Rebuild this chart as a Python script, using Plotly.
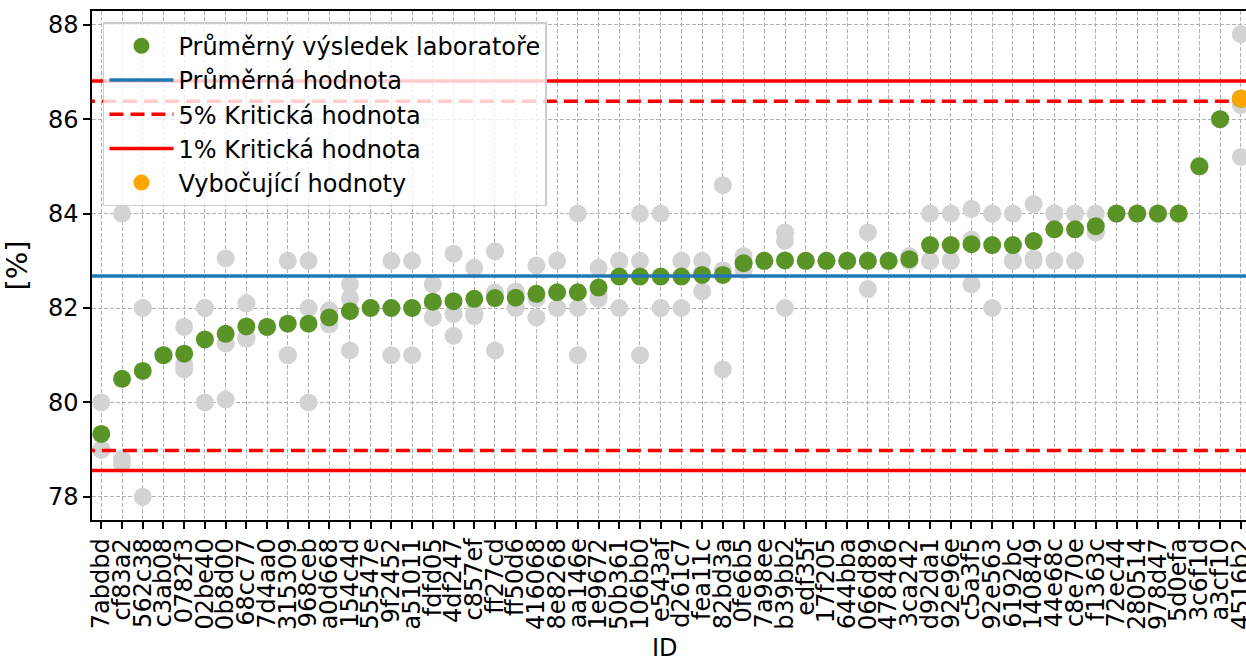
import numpy as np
import plotly.graph_objects as go

# ---- data ----
lab_ids = ["7abdbd", "cf83a2", "562c38", "c3ab08", "0782f3", "02be40", "0b8d00", "68cc77",
           "7d4aa0", "315309", "968ceb", "a0d668", "154c4d", "55547e", "9f2452", "a51011",
           "fdfd05", "4df247", "c857ef", "ff27cd", "ff50d6", "416068", "8e8268", "aa146e",
           "1e9672", "50b361", "106bb0", "e543af", "d261c7", "fea11c", "82bd3a", "0fe6b5",
           "7a98ee", "b39bb2", "edf35f", "17f205", "644bba", "066d89", "478486", "3ca242",
           "d92da1", "92e96e", "c5a3f5", "92e563", "6192bc", "140849", "44e68c", "c8e70e",
           "f1363c", "72ec44", "280514", "978d47", "5d0efa", "3c6f1d", "a3cf10", "4516b2"]

# individual results of each laboratory (3 replicates)
lab_results = [
    [80.0, 79.0, 79.0], [84.0, 78.7, 78.8], [82.0, 82.0, 78.0], [81.0, 81.0, 81.0],
    [81.6, 80.8, 80.7], [82.0, 82.0, 80.0], [83.05, 81.25, 80.06], [82.1, 81.35, 81.38],
    [81.6, 81.6, 81.6], [83.0, 81.0, 81.0], [83.0, 82.0, 80.0], [81.95, 81.8, 81.65],
    [82.5, 82.2, 81.1], [82.0, 82.0, 82.0], [83.0, 82.0, 81.0], [83.0, 82.0, 81.0],
    [82.5, 82.1, 81.8], [83.15, 81.87, 81.41], [82.85, 81.9, 81.83], [83.2, 82.33, 81.1],
    [82.35, 82.3, 82.0], [82.9, 82.2, 81.8], [83.0, 82.0, 82.0], [84.0, 82.0, 81.0],
    [82.85, 82.25, 82.2], [83.0, 83.0, 82.0], [84.0, 83.0, 81.0], [84.0, 82.0, 82.0],
    [83.0, 83.0, 82.0], [83.0, 82.75, 82.35], [84.6, 82.8, 80.7], [83.1, 82.95, 82.8],
    [83.0, 83.0, 83.0], [83.6, 83.42, 82.0], [83.0, 83.0, 83.0], [83.0, 83.0, 83.0],
    [83.0, 83.0, 83.0], [83.6, 83.0, 82.4], [83.0, 83.0, 83.0], [83.1, 83.0, 83.0],
    [84.0, 83.0, 83.0], [84.0, 83.0, 83.0], [84.1, 83.45, 82.5], [84.0, 84.0, 82.0],
    [84.0, 83.0, 83.0], [84.2, 83.05, 83.0], [84.0, 84.0, 83.0], [84.0, 84.0, 83.0],
    [84.0, 83.6, 83.6], [84.0, 84.0, 84.0], [84.0, 84.0, 84.0], [84.0, 84.0, 84.0],
    [84.0, 84.0, 84.0], [85.0, 85.0, 85.0], [86.0, 86.0, 86.0], [87.8, 86.3, 85.2],
]

outlier_ids = ["4516b2"]

mean_value = 82.68
crit5_low, crit5_high = 78.98, 86.38
crit1_low, crit1_high = 78.56, 86.81

y_tick_values = [78, 80, 82, 84, 86, 88]

# ---- derived ----
xi = list(range(len(lab_ids)))
lab_means = [float(np.mean(r)) for r in lab_results]
grey_x = [i for i, r in enumerate(lab_results) for _ in r]
grey_y = [v for r in lab_results for v in r]
out_x = [lab_ids.index(o) for o in outlier_ids]
out_y = [lab_means[i] for i in out_x]
span = [-2, len(lab_ids) + 1]

FONT = "DejaVu Sans"
FS = 24

fig = go.Figure()
fig.add_trace(go.Scatter(x=grey_x, y=grey_y, mode="markers", showlegend=False,
                         marker=dict(color="#d3d3d3", size=18), hoverinfo="y"))
fig.add_trace(go.Scatter(x=xi, y=lab_means, mode="markers",
                         name="Průměrný výsledek laboratoře",
                         marker=dict(color="#5b9426", size=18)))
fig.add_trace(go.Scatter(x=span, y=[mean_value] * 2, mode="lines", name="Průměrná hodnota",
                         line=dict(color="#1f77b4", width=3.5)))
fig.add_trace(go.Scatter(x=span + [None] + span, y=[crit5_high] * 2 + [None] + [crit5_low] * 2,
                         mode="lines", name="5% Kritická hodnota",
                         line=dict(color="#ff0000", width=3.5, dash="14px,7px")))
fig.add_trace(go.Scatter(x=span + [None] + span, y=[crit1_high] * 2 + [None] + [crit1_low] * 2,
                         mode="lines", name="1% Kritická hodnota",
                         line=dict(color="#ff0000", width=3.5)))
fig.add_trace(go.Scatter(x=out_x, y=out_y, mode="markers", name="Vybočující hodnoty",
                         marker=dict(color="#ffa500", size=18)))

fig.update_layout(
    width=1246, height=661,
    margin=dict(l=92, r=0, t=11, b=141, autoexpand=False),
    paper_bgcolor="white", plot_bgcolor="white",
    font=dict(family=FONT, size=FS, color="black"),
    legend=dict(x=0.0095, y=0.978, xanchor="left", yanchor="top",
                bgcolor="rgba(255,255,255,0.8)", bordercolor="#cccccc", borderwidth=1.5,
                font=dict(family=FONT, size=FS), tracegroupgap=0, itemwidth=64),
    annotations=[dict(text="ID", xref="paper", yref="paper", x=0.4965, y=-0.2505,
                      xanchor="center", yanchor="middle", showarrow=False,
                      font=dict(family=FONT, size=FS, color="black"))],
)
fig.update_xaxes(
    range=[-0.45, 55.25], tickmode="array", tickvals=xi, ticktext=lab_ids, tickangle=-90,
    ticklabeloverflow="allow", automargin=False,
    showline=True, linecolor="black", linewidth=1.5, mirror=True,
    ticks="outside", ticklen=7, tickwidth=1.5, tickcolor="black",
    showgrid=True, gridcolor="#b0b0b0", gridwidth=1, griddash="4px,2px",
    zeroline=False, tickfont=dict(size=FS),
)
fig.update_yaxes(
    range=[77.51, 88.29], tickmode="array", tickvals=y_tick_values,
    ticktext=[str(v) for v in y_tick_values], automargin=False,
    showline=True, linecolor="black", linewidth=1.5,
    ticks="outside", ticklen=7, tickwidth=1.5, tickcolor="black",
    showgrid=True, gridcolor="#b0b0b0", gridwidth=1, griddash="4px,2px",
    zeroline=False, title=dict(text="[%]", standoff=12), tickfont=dict(size=FS),
)

fig.write_html("out.html", config={"displayModeBar": False},
               post_script="document.body.style.margin='0';")
